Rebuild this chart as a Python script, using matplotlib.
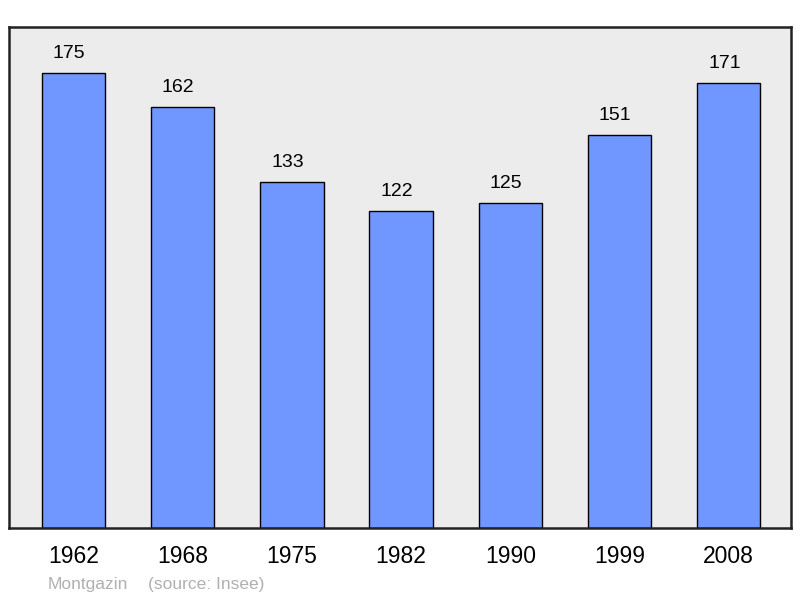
import matplotlib
matplotlib.use("Agg")
import matplotlib.pyplot as plt

years = ["1962", "1968", "1975", "1982", "1990", "1999", "2008"]
population = [175, 162, 133, 122, 125, 151, 171]

plt.rcParams["font.family"] = ["Liberation Sans", "DejaVu Sans"]

fig = plt.figure(figsize=(8.0, 5.98), dpi=100)
ax = fig.add_axes([9 / 800, 70 / 598, 782 / 800, 501 / 598])
ax.set_facecolor("#ececec")

x = list(range(len(years)))
bars = ax.bar(x, population, width=0.58, color="#7097ff",
              edgecolor="black", linewidth=1.0, zorder=2)

for xi, v in zip(x, population):
    ax.text(xi - 0.04, v + 7.5, str(v), ha="center", va="center", fontsize=14)

ax.set_xlim(-0.59, 6.57)
ax.set_ylim(0, 192.7)
ax.set_yticks([])
ax.set_xticks(x)
ax.set_xticklabels(years, fontsize=16.5)
ax.tick_params(axis="x", length=0, pad=12.5)
for s in ax.spines.values():
    s.set_linewidth(1.8)
    s.set_color("#222222")

fig.text(48 / 800, 1 - 584 / 598, "Montgazin", color="#b0b0b0",
         fontsize=12.5, va="center", ha="left")
fig.text(148 / 800, 1 - 584 / 598, "(source: Insee)", color="#b0b0b0",
         fontsize=12.5, va="center", ha="left")

fig.savefig("out.png", dpi=100)
